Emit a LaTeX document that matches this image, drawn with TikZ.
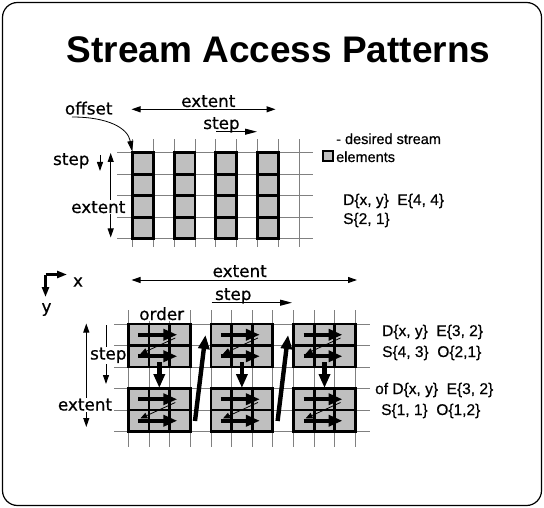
\documentclass[tikz,border=0pt]{standalone}
\usepackage{fontspec}
\setmainfont{Liberation Sans}
\newfontface\lblfont[FakeBold=0.6]{DejaVu Sans}
\newfontface\infofont[FakeBold=0.5]{Liberation Sans}
\usetikzlibrary{arrows.meta}
\tikzstyle{gline}=[draw=black!50,line width=0.8pt]
\tikzstyle{cellfill}=[fill=black!25]
\tikzstyle{elem}=[draw=black,line width=2.8pt]
\tikzstyle{lbl}=[font=\lblfont\fontsize{16.8}{18}\selectfont,inner sep=0pt]
\tikzstyle{wlbl}=[lbl,fill=white,inner sep=1pt]
\tikzstyle{info}=[font=\infofont\fontsize{15.5}{17}\selectfont,inner sep=0pt,anchor=base west]
\tikzstyle{dimarr}=[{Triangle[length=9pt,width=6pt]}-{Triangle[length=9pt,width=6pt]},line width=1pt]
\tikzstyle{steparr}=[-{Triangle[length=12pt,width=6pt]},line width=1pt]
\tikzstyle{ordarr}=[-{Triangle[length=14pt,width=11pt]},line width=4.4pt]
\tikzstyle{retarr}=[-{Triangle[length=7pt,width=6pt]},line width=0.8pt]
\tikzstyle{axarr}=[-{Triangle[length=10pt,width=7pt]},line width=2.4pt]

\begin{document}
\begin{tikzpicture}[x=1pt,y=-1pt]
\useasboundingbox (0,0) rectangle (544,508);
\draw[line width=1.2pt,rounded corners=15pt] (2.5,2.5) rectangle (541.5,505.5);
\node (title) at (278.5,50) {\bfseries\fontsize{37}{40}\selectfont Stream Access Patterns};

% first pattern
\foreach \i in {0,...,8} \draw[gline] (132.5+20.8*\i,139.5) -- (132.5+20.8*\i,247);
\foreach \j in {0,...,4} \draw[gline] (117,152.7+21.5*\j) -- (313,152.7+21.5*\j);
\foreach \c in {0,2,4,6} {
  \fill[cellfill] (132.5+20.8*\c,152.7) rectangle ++(20.8,86);
  \foreach \j in {0,...,3} \draw[elem] (132.5+20.8*\c,152.7+21.5*\j) rectangle ++(20.8,21.5);
}
\node[lbl,anchor=base] (offset) at (88.7,114.5) {offset};
\coordinate (offs) at (72,117); \coordinate (orig) at (132,151);
\draw[-{Triangle[length=10pt,width=6pt]},line width=0.8pt] (offs) .. controls (108,117) and (128,128) .. (orig);
\coordinate (ex1l) at (131.5,109.3); \coordinate (ex1r) at (275.5,109.3);
\draw[dimarr] (ex1l) -- (ex1r);
\node[lbl,anchor=base] (extent1) at (208.3,107) {extent};
\node[lbl,anchor=base] (step1) at (221.5,129) {step};
\coordinate (st1a) at (216,131.7); \coordinate (st1b) at (257,131.7);
\draw[steparr] (st1a) -- (st1b);
\node[lbl,anchor=base] (step2) at (71.3,165) {step};
\coordinate (st2a) at (100,155); \coordinate (st2b) at (100,171);
\draw[-{Triangle[length=9pt,width=6pt]},line width=1pt] (st2a) -- (st2b);
\coordinate (ex2a) at (110.7,237.5); \coordinate (ex2b) at (110.7,153);
\draw[dimarr] (ex2a) -- (ex2b);
\node[wlbl,anchor=base] (extent2) at (98.3,213) {extent};

% legend
\node[draw,fill=black!25,line width=1.5pt,minimum size=10pt,inner sep=0pt] (key) at (328,156) {};
\node[info,font=\infofont\fontsize{14.5}{16}\selectfont] (keytxt1) at (336,144) {- desired stream};
\node[info,font=\infofont\fontsize{14.5}{16}\selectfont] (keytxt2) at (336,162) {elements};
\node[info] (desc1) at (343,205) {D\{x, y\}\ \ E\{4, 4\}};
\node[info] (desc2) at (343,224) {S\{2, 1\}};

% second pattern
\coordinate (org) at (45.5,274.5);
\draw[axarr] (org) -- (67,274.5);
\draw[axarr] (org) -- (45.5,297);
\node[lbl] (xlab) at (78,282) {x};
\node[lbl] (ylab) at (46.5,309.5) {y};
\foreach \i in {0,...,11} \draw[gline] (128.3+20.65*\i,310) -- (128.3+20.65*\i,447);
\foreach \j in {0,...,5} \draw[gline] (114,324+21.5*\j) -- (370,324+21.5*\j);
\coordinate (ex3l) at (131.5,280); \coordinate (ex3r) at (357,280);
\draw[dimarr] (ex3l) -- (ex3r);
\node[lbl,anchor=base] (extent3) at (239.7,277) {extent};
\node[lbl,anchor=base] (step3) at (233.3,300) {step};
\coordinate (st3a) at (211.7,302.7); \coordinate (st3b) at (292,302.7);
\draw[steparr] (st3a) -- (st3b);
\node[wlbl,anchor=base] (order) at (161.7,320) {order};
\coordinate (st4a) at (106,325); \coordinate (st4b) at (106,384);
\draw[-{Triangle[length=9pt,width=6pt]},line width=1pt] (st4a) -- (st4b);
\node[wlbl,anchor=base] (step4) at (108.3,359.5) {step};
\coordinate (ex4a) at (86.3,323.5); \coordinate (ex4b) at (86.3,427);
\draw[dimarr] (ex4a) -- (ex4b);
\node[wlbl,anchor=base] (extent4) at (85,410.5) {extent};
\foreach \c in {0,1,2} \foreach \r in {0,1} {
  \begin{scope}[shift={(128.3+82.6*\c,324+64.5*\r)}]
    \fill[cellfill] (0,0) rectangle (61.95,43);
    \foreach \i in {0,1,2} \foreach \j in {0,1} \draw[elem] (20.65*\i,21.5*\j) rectangle ++(20.65,21.5);
    \draw[ordarr] (10,10.75) -- (49,10.75);
    \draw[ordarr] (10,32.25) -- (49,32.25);
    \draw[retarr] (47,14) -- (12,30);
  \end{scope}
}
\foreach \c in {0,1,2} \draw[ordarr] (159.3+82.6*\c,362) -- (159.3+82.6*\c,388);
\foreach \c in {0,1} \draw[ordarr] (195+82.6*\c,421) -- (205.5+82.6*\c,335);
\node[info] (desc3) at (382,336) {D\{x, y\}\ \ E\{3, 2\}};
\node[info] (desc4) at (382,357) {S\{4, 3\}\ \ O\{2,1\}};
\node[info] (desc5) at (375,394) {of D\{x, y\}\ \ E\{3, 2\}};
\node[info] (desc6) at (381,415) {S\{1, 1\}\ \ O\{1,2\}};
\end{tikzpicture}
\end{document}
